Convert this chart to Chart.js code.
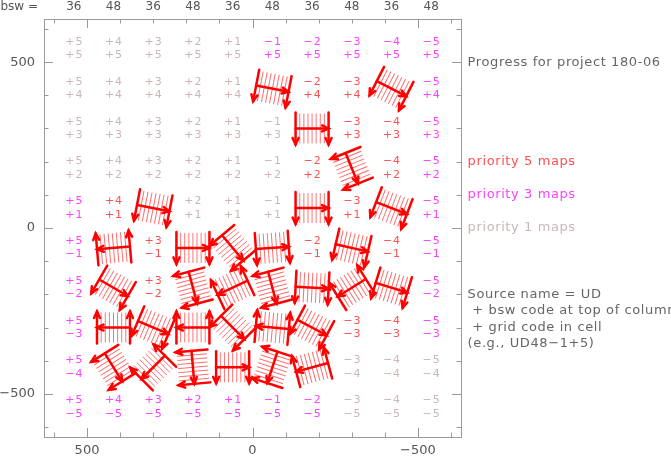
<!DOCTYPE html>
<html>
<head>
<meta charset="utf-8">
<script src="https://cdn.jsdelivr.net/npm/chart.js@4.4.0/dist/chart.umd.min.js"></script>
<style>
  html, body { margin: 0; padding: 0; background: #fff; }
  #wrap { width: 671px; height: 456px; }
</style>
</head>
<body>
<div id="wrap"><canvas id="progressChart"></canvas></div>
<script>
// grid codes: columns (bsw code printed on top) and rows
const columnCodes = [5, 4, 3, 2, 1, -1, -2, -3, -4, -5];
const bswCodes = [36, 48, 36, 48, 36, 48, 36, 48, 36, 48];
const rowCodes = [5, 4, 3, 2, 1, -1, -2, -3, -4, -5];
const cellCentres = [540, 420, 300, 180, 60, -60, -180, -300, -420, -540];

// priority of the map still to do in each cell, rows +5 .. -5 (0 = already mapped)
const cellPriority = [
  [1, 1, 1, 1, 1, 3, 3, 3, 3, 3],
  [1, 1, 1, 1, 1, 0, 5, 5, 0, 3],
  [1, 1, 1, 1, 1, 1, 0, 5, 5, 3],
  [1, 1, 1, 1, 1, 1, 5, 0, 5, 3],
  [3, 5, 0, 1, 1, 1, 0, 5, 0, 3],
  [3, 0, 5, 0, 0, 0, 5, 0, 5, 3],
  [3, 0, 5, 0, 0, 0, 0, 0, 0, 3],
  [3, 0, 0, 0, 0, 0, 0, 5, 5, 3],
  [3, 0, 0, 0, 0, 0, 0, 1, 1, 1],
  [3, 3, 3, 3, 3, 3, 3, 1, 1, 1]
];

// maps already done: centre and scan angle (deg)
const mapX = [-60, -420, -180, -300, 300, -180, -420,
  420, 180, 60, -60, -300,
  420, 180, 60, -60, -180, -300, -420,
  420, 300, 180, 60, -60, -180,
  420, 300, 180, 60, -60, -180];
const mapY = [420, 420, 300, 180, 60, 60, 60,
  -60, -60, -60, -60, -60,
  -180, -180, -180, -180, -180, -180, -180,
  -300, -300, -300, -300, -300, -300,
  -420, -420, -420, -420, -420, -420];
const mapAngle = [11, 27, 0, 68, 11, 0, 21,
  175, 0, 50, -4, 13,
  30, 75, 155, 75, 3, 148, 17,
  180, 23, 180, 45, 185, 28,
  58, 135, 85, 0, 108, 165];

const majorTicks = [-500, 0, 500];
const minorTicks = [-600, -400, -300, -200, -100, 100, 200, 300, 400, 600];

// notes on the right-hand side
const noteText = ['Progress for project 180-06', 'priority 5 maps', 'priority 3 maps', 'priority 1 maps',
  'Source name = UD', ' + bsw code at top of column', ' + grid code in cell', '(e.g., UD48\u22121+5)'];
const noteY = [500, 200, 100, 0, -200, -250, -300, -350];
const notePriority = [0, 5, 3, 1, 0, 0, 0, 0];

const priorityColour = { 0: '#666666', 1: '#ccb6b6', 3: '#ff40ff', 5: '#ff5050' };
const frameColour = '#9a9a9a';

function codeLabel(c) {
  return (c > 0 ? '+' : '\u2212') + Math.abs(c);
}

function signed(v) {
  return v < 0 ? '\u2212' + Math.abs(v) : String(v);
}

// one hatched map outline, scan arrows along the long sides
function drawMap(ctx, cx, cy, angle) {
  const hw = 16.5, hh = 16;
  ctx.save();
  ctx.translate(cx, cy);
  ctx.rotate(angle * Math.PI / 180);
  ctx.strokeStyle = '#ff6464';
  ctx.lineWidth = 0.9;
  for (let i = -3; i <= 3; i++) {
    ctx.beginPath(); ctx.moveTo(i * 4.1, -hh + 1); ctx.lineTo(i * 4.1, hh - 1); ctx.stroke();
  }
  ctx.strokeStyle = '#ff0000';
  ctx.lineWidth = 2.5;
  ctx.lineCap = 'round';
  [-hw, hw].forEach(x => {
    ctx.beginPath(); ctx.moveTo(x, -hh); ctx.lineTo(x, hh); ctx.stroke();
    ctx.beginPath(); ctx.moveTo(x - 3, hh - 6.5); ctx.lineTo(x, hh); ctx.lineTo(x + 3, hh - 6.5); ctx.stroke();
  });
  ctx.beginPath(); ctx.moveTo(-hw, 0); ctx.lineTo(hw, 0); ctx.stroke();
  ctx.beginPath(); ctx.moveTo(hw - 6.5, -3); ctx.lineTo(hw, 0); ctx.lineTo(hw - 6.5, 3); ctx.stroke();
  ctx.restore();
}

const mapPlot = {
  id: 'mapPlot',
  beforeDatasetsDraw(chart) {
    const { ctx, scales: { x, y } } = chart;
    ctx.save();
    ctx.font = '11px "DejaVu Sans"';
    ctx.letterSpacing = '1px';
    ctx.textAlign = 'center';
    ctx.textBaseline = 'middle';
    rowCodes.forEach((rc, r) => {
      columnCodes.forEach((cc, c) => {
        const p = cellPriority[r][c];
        if (!p) return;
        const px = x.getPixelForValue(cellCentres[c]);
        const py = y.getPixelForValue(cellCentres[r]);
        ctx.fillStyle = priorityColour[p];
        ctx.fillText(codeLabel(cc), px + 0.5, py - 6.7);
        ctx.fillText(codeLabel(rc), px + 0.5, py + 6.7);
      });
    });
    ctx.restore();
  },
  afterDatasetsDraw(chart) {
    const meta = chart.getDatasetMeta(0);
    meta.data.forEach((pt, i) => drawMap(chart.ctx, pt.x, pt.y, mapAngle[i]));
  },
  afterDraw(chart) {
    const { ctx, chartArea: a, scales: { x, y } } = chart;
    ctx.save();
    ctx.strokeStyle = frameColour;
    ctx.lineWidth = 1;
    ctx.strokeRect(Math.round(a.left) + 0.5, Math.round(a.top) + 0.5,
      Math.round(a.right - a.left), Math.round(a.bottom - a.top));
    const tick = (vals, len) => {
      vals.forEach(v => {
        const px = Math.round(x.getPixelForValue(v)) + 0.5;
        const py = Math.round(y.getPixelForValue(v)) + 0.5;
        ctx.beginPath();
        ctx.moveTo(px, a.bottom); ctx.lineTo(px, a.bottom - len);
        ctx.moveTo(px, a.top); ctx.lineTo(px, a.top + len);
        ctx.moveTo(a.left, py); ctx.lineTo(a.left + len, py);
        ctx.moveTo(a.right, py); ctx.lineTo(a.right - len, py);
        ctx.stroke();
      });
    };
    tick(majorTicks, 9);
    tick(minorTicks, 4.5);

    ctx.font = '12px "DejaVu Sans"';
    ctx.textBaseline = 'middle';
    ctx.fillStyle = '#555';
    ctx.textAlign = 'right';
    ctx.fillText('bsw =', a.left - 6, 7);

    ctx.font = '13px "DejaVu Sans"';
    ctx.letterSpacing = '0.6px';
    ctx.textAlign = 'left';
    noteText.forEach((t, i) => {
      ctx.fillStyle = priorityColour[notePriority[i]];
      ctx.fillText(t, x.getPixelForValue(-650), y.getPixelForValue(noteY[i]));
    });
    ctx.restore();
  }
};

const axisFont = { family: 'DejaVu Sans', size: 13 };
const noGrid = { display: false, drawTicks: false };

new Chart(document.getElementById('progressChart'), {
  type: 'scatter',
  data: {
    datasets: [{
      label: 'maps done',
      data: mapX.map((v, i) => ({ x: v, y: mapY[i] })),
      pointRadius: 0,
      pointHoverRadius: 0,
      showLine: false
    }]
  },
  options: {
    responsive: true,
    maintainAspectRatio: false,
    animation: false,
    events: [],
    layout: { padding: { left: 0, right: 210, top: 0, bottom: 0 } },
    plugins: { legend: { display: false }, tooltip: { enabled: false } },
    scales: {
      x: {
        type: 'linear', position: 'bottom', reverse: true, min: -630, max: 630,
        afterBuildTicks: s => { s.ticks = majorTicks.map(v => ({ value: v })); },
        afterFit: s => { s.height = 19; },
        grid: noGrid, border: { display: false },
        ticks: { font: axisFont, color: '#555', padding: 6, maxRotation: 0, callback: v => signed(v) }
      },
      xTop: {
        type: 'linear', position: 'top', reverse: true, min: -630, max: 630,
        afterBuildTicks: s => { s.ticks = cellCentres.map(v => ({ value: v })); },
        afterFit: s => { s.height = 19; },
        grid: noGrid, border: { display: false },
        ticks: { font: { family: 'DejaVu Sans', size: 12 }, color: '#555', padding: 5, maxRotation: 0, autoSkip: false,
          callback: (v, i) => String(bswCodes[i]) }
      },
      y: {
        type: 'linear', position: 'left', min: -630, max: 630,
        afterBuildTicks: s => { s.ticks = majorTicks.map(v => ({ value: v })); },
        afterFit: s => { s.width = 44; },
        grid: noGrid, border: { display: false },
        ticks: { font: axisFont, color: '#555', padding: 9, callback: v => signed(v) }
      }
    }
  },
  plugins: [mapPlot]
});
</script>
</body>
</html>
